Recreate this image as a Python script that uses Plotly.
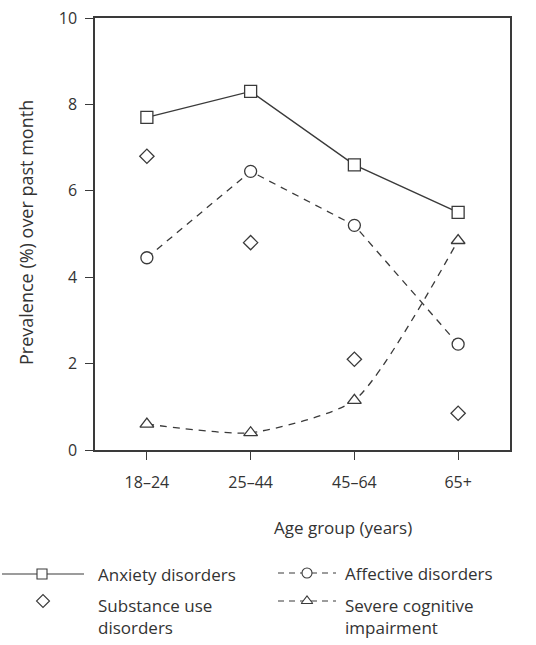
import plotly.graph_objects as go

# Age groups and prevalence (%) over the past month
age_groups = ["18–24", "25–44", "45–64", "65+"]
anxiety = [7.7, 8.3, 6.6, 5.5]
affective = [4.45, 6.45, 5.2, 2.45]
substance = [6.8, 4.8, 2.1, 0.85]
cognitive = [0.6, 0.4, 1.15, 4.85]

y_ticks = [0, 2, 4, 6, 8, 10]

W, H = 536, 645
INK = "#3a3a3a"
TXT = "#333333"
FONT = "Open Sans"
FS = 17

# plot box in pixels
left, right, top, bottom = 95, 510, 18, 450

x_idx = list(range(len(age_groups)))

fig = go.Figure()

marker_line = dict(color=INK, width=1.3)

fig.add_trace(go.Scatter(
    x=x_idx, y=anxiety, mode="lines+markers",
    line=dict(color=INK, width=1.4),
    marker=dict(symbol="square", size=12, color="white", line=marker_line),
    showlegend=False))

fig.add_trace(go.Scatter(
    x=x_idx, y=affective, mode="lines+markers",
    line=dict(color=INK, width=1.3, dash="7px,6px"),
    marker=dict(symbol="circle", size=12, color="white", line=marker_line),
    showlegend=False))

fig.add_trace(go.Scatter(
    x=x_idx, y=cognitive, mode="lines+markers",
    line=dict(color=INK, width=1.3, dash="7px,6px", shape="spline", smoothing=0.6),
    marker=dict(symbol="triangle-up", size=12, color="white", line=marker_line),
    showlegend=False))

fig.add_trace(go.Scatter(
    x=x_idx, y=substance, mode="markers",
    marker=dict(symbol="diamond", size=11, color="white", line=marker_line),
    showlegend=False))

# ---- legend keys drawn on an overlay axis measured in pixels ----
leg_rows = [574, 604]
key_specs = [
    # (x0, x1, marker x, row, symbol, dash, size)
    (2, 84, 42, leg_rows[0], "square", "solid", 10),
    (278, 336, 307, leg_rows[0] - 1, "circle", "6px,5px", 10),
    (43, 43, 43, leg_rows[1] - 3, "diamond", None, 10),
    (278, 336, 307, leg_rows[1] - 3, "triangle-up", "6px,5px", 10),
]
for x0, x1, xm, row, sym, dash, sz in key_specs:
    if dash is not None:
        fig.add_trace(go.Scatter(
            x=[x0, x1], y=[row, row], mode="lines",
            line=dict(color=INK, width=1.2, dash=dash),
            xaxis="x2", yaxis="y2", showlegend=False, hoverinfo="skip"))
    fig.add_trace(go.Scatter(
        x=[xm], y=[row], mode="markers",
        marker=dict(symbol=sym, size=sz, color="white", line=dict(color=INK, width=1.1)),
        xaxis="x2", yaxis="y2", showlegend=False, hoverinfo="skip"))

legend_texts = [
    (96, leg_rows[0], "Anxiety disorders"),
    (343, leg_rows[0] - 1, "Affective disorders"),
    (96, leg_rows[1] + 12, "Substance use<br>disorders"),
    (343, leg_rows[1] + 12, "Severe cognitive<br>impairment"),
]
annotations = []
for x, y, t in legend_texts:
    annotations.append(dict(
        x=x, y=y, xref="x2", yref="y2", text=t, showarrow=False,
        xanchor="left", yanchor="middle", align="left",
        font=dict(family=FONT, size=FS, color=TXT)))

# axis titles
annotations.append(dict(
    x=343, y=527, xref="x2", yref="y2", text="Age group (years)",
    showarrow=False, xanchor="center", yanchor="middle",
    font=dict(family=FONT, size=FS, color=TXT)))
annotations.append(dict(
    x=26, y=233, xref="x2", yref="y2", text="Prevalence (%) over past month",
    showarrow=False, textangle=-90, xanchor="center", yanchor="middle",
    font=dict(family=FONT, size=18, color=TXT)))

axis_common = dict(
    showline=True, linecolor=INK, linewidth=1.5, mirror=True,
    ticks="outside", ticklen=8, tickwidth=1.3, tickcolor=INK,
    showgrid=False, zeroline=False,
    tickfont=dict(family=FONT, size=16, color=TXT),
)

fig.update_layout(
    width=W, height=H,
    margin=dict(l=0, r=0, t=0, b=0),
    paper_bgcolor="white", plot_bgcolor="rgba(0,0,0,0)",
    xaxis=dict(domain=[left / W, right / W], range=[-0.5, 3.5],
               tickvals=x_idx, ticktext=age_groups, ticklabelstandoff=9,
               automargin=False, **axis_common),
    yaxis=dict(domain=[(H - bottom) / H, (H - top) / H], range=[0, 10],
               tickvals=y_ticks, ticklabelstandoff=5,
               automargin=False, **axis_common),
    xaxis2=dict(domain=[0, 1], range=[0, W], visible=False,
                anchor="y2", fixedrange=True),
    yaxis2=dict(domain=[0, 1], range=[H, 0], visible=False,
                anchor="x2", fixedrange=True),
    annotations=annotations,
)

fig.write_html("out.html")
